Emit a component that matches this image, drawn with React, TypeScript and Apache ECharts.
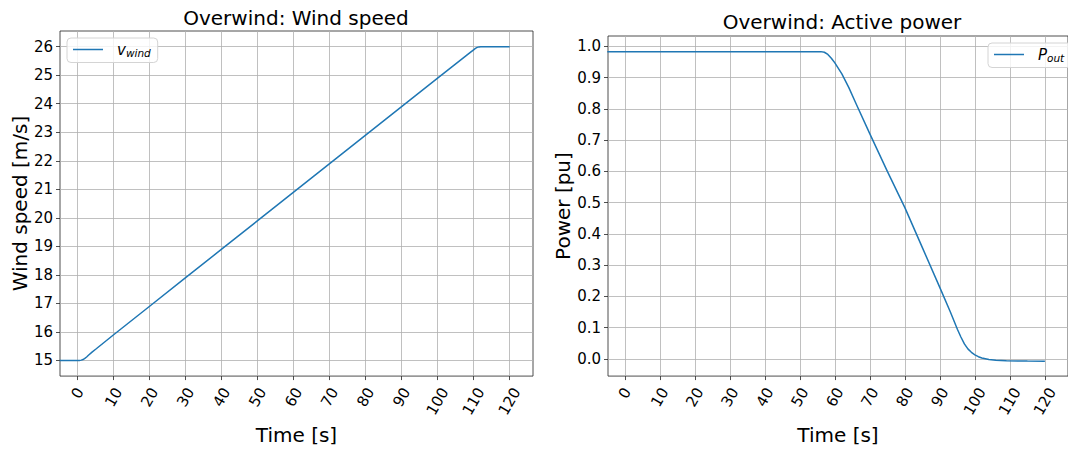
import React, { useEffect, useRef } from "react";
import * as echarts from "echarts";

// ---- data ----
const windTime = [-5, 0, 0.5, 1, 1.5, 2, 2.5, 3, 4, 5, 10, 20, 30, 40, 50, 60, 70, 80, 90, 100, 109, 110, 110.5, 111, 111.5, 112, 120];
const windSpeed = [15, 15, 15, 15.01, 15.03, 15.07, 15.12, 15.18, 15.29, 15.39, 15.9, 16.9, 17.9, 18.9, 19.9, 20.9, 21.9, 22.9, 23.9, 24.9, 25.79, 25.89, 25.94, 25.975, 25.993, 26, 26];

const powerTime = [-5, 0, 10, 20, 30, 40, 50, 56, 57, 58, 59, 60, 62, 64, 66, 70, 75, 80, 85, 90, 93, 95, 96, 97, 98, 99, 100, 101, 102, 104, 106, 109, 115, 120];
const powerOut = [0.983, 0.983, 0.983, 0.983, 0.983, 0.983, 0.983, 0.983, 0.981, 0.974, 0.962, 0.947, 0.912, 0.868, 0.818, 0.72, 0.6, 0.484, 0.356, 0.228, 0.15, 0.095, 0.07, 0.048, 0.032, 0.021, 0.013, 0.007, 0.003, -0.002, -0.004, -0.006, -0.007, -0.0075];

const timeTicks = [0, 10, 20, 30, 40, 50, 60, 70, 80, 90, 100, 110, 120];
const windTicks = [15, 16, 17, 18, 19, 20, 21, 22, 23, 24, 25, 26];
const powerTicks = [0, 0.1, 0.2, 0.3, 0.4, 0.5, 0.6, 0.7, 0.8, 0.9, 1.0];

const titles = ["Overwind: Wind speed", "Overwind: Active power"];
const yNames = ["Wind speed [m/s]", "Power [pu]"];
const xName = "Time [s]";

const FONT = "DejaVu Sans";
const LINE = "#1f77b4";
const GRIDC = "#b0b0b0";
const SPINE = "#222";
const TICK = 15;

function xLabel(v: number) {
  const s = String(Math.abs(Math.round(v)));
  return `{d${s.length}|${s}}`;
}
const base = { fontSize: TICK, color: "#000", fontFamily: FONT };
const xRich = {
  d1: { ...base },
  d2: { ...base, padding: [4.1, 7.2, 0, 0] },
  d3: { ...base, padding: [8.3, 14.3, 0, 0] },
};

function makeX(gridIndex: number, min: number, max: number) {
  return {
    type: "value",
    gridIndex,
    min,
    max,
    minInterval: 10,
    maxInterval: 10,
    name: xName,
    nameLocation: "middle",
    nameGap: 41,
    nameTextStyle: { fontSize: 20, color: "#000", fontFamily: FONT },
    axisLine: { show: false, onZero: false },
    axisTick: { show: true, length: 4, customValues: timeTicks, lineStyle: { color: SPINE, width: 0.8 } },
    axisLabel: {
      rotate: 60,
      align: "center",
      verticalAlign: "middle",
      margin: 17,
      customValues: timeTicks,
      formatter: xLabel,
      rich: xRich,
      ...base,
    },
    splitLine: { show: true, lineStyle: { color: GRIDC, width: 0.8 } },
  };
}

function legendRich() {
  return {
    m: { fontSize: 15, fontStyle: "italic", fontFamily: FONT, color: "#000", padding: [0, 0, 0, 9] },
    s: { fontSize: 10.5, fontStyle: "italic", fontFamily: FONT, color: "#000", padding: [7, 0, 0, 0] },
  };
}

function makeLegend(name: string, left: number, top: number, main: string, sub: string) {
  return {
    data: [name],
    left,
    top,
    padding: [4, 7, 4, 6],
    icon: "rect",
    itemWidth: 30,
    itemHeight: 1.5,
    backgroundColor: "rgba(255,255,255,0.8)",
    borderColor: "#d4d4d4",
    borderWidth: 1,
    borderRadius: 4,
    formatter: () => `{m|${main}}{s|${sub}}`,
    textStyle: { rich: legendRich() },
  };
}

export default function App() {
  const ref = useRef<HTMLDivElement>(null);
  useEffect(() => {
    if (!ref.current) return;
    const chart = echarts.init(ref.current, undefined, { renderer: "svg" });
    const windData = windTime.map((t, i) => [t, windSpeed[i]]);
    const powerData = powerTime.map((t, i) => [t, powerOut[i]]);
    chart.setOption({
      animation: false,
      backgroundColor: "#fff",
      textStyle: { fontFamily: FONT },
      title: [
        { text: titles[0], left: 296, top: 8, padding: 0, textAlign: "center", textStyle: { fontSize: 20, fontWeight: "normal", color: "#000", fontFamily: FONT } },
        { text: titles[1], left: 842, top: 12, padding: 0, textAlign: "center", textStyle: { fontSize: 20, fontWeight: "normal", color: "#000", fontFamily: FONT } },
      ],
      grid: [
        { left: 60, top: 31, right: 535, bottom: 67, show: true, borderColor: SPINE, borderWidth: 0.8, backgroundColor: "transparent" },
        { left: 608, top: 36, right: -8, bottom: 66, show: true, borderColor: SPINE, borderWidth: 0.8, backgroundColor: "transparent" },
      ],
      xAxis: [makeX(0, -4.9, 126.5), makeX(1, -4.8, 126.6)],
      yAxis: [
        {
          type: "value",
          gridIndex: 0,
          min: 14.45,
          max: 26.55,
          minInterval: 1,
          maxInterval: 1,
          name: yNames[0],
          nameLocation: "middle",
          nameGap: 28,
          nameTextStyle: { fontSize: 20, color: "#000", fontFamily: FONT },
          axisLine: { show: false, onZero: false },
          axisTick: { show: true, length: 4, customValues: windTicks, lineStyle: { color: SPINE, width: 0.8 } },
          axisLabel: {
            margin: 7,
            ...base,
            customValues: windTicks,
            formatter: (v: number) => String(Math.round(v)),
          },
          splitLine: { show: true, lineStyle: { color: GRIDC, width: 0.8 } },
        },
        {
          type: "value",
          gridIndex: 1,
          min: -0.055,
          max: 1.033,
          minInterval: 0.1,
          maxInterval: 0.1,
          name: yNames[1],
          nameLocation: "middle",
          nameGap: 33,
          nameTextStyle: { fontSize: 20, color: "#000", fontFamily: FONT },
          axisLine: { show: false, onZero: false },
          axisTick: { show: true, length: 4, customValues: powerTicks, lineStyle: { color: SPINE, width: 0.8 } },
          axisLabel: {
            margin: 7,
            ...base,
            customValues: powerTicks,
            formatter: (v: number) => (Math.abs(v) < 1e-9 ? "0.0" : v.toFixed(1)),
          },
          splitLine: { show: true, lineStyle: { color: GRIDC, width: 0.8 } },
        },
      ],
      legend: [makeLegend("wind", 67, 38, "v", "wind"), makeLegend("power", 988, 43, "P", "out")],
      series: [
        {
          name: "wind",
          type: "line",
          xAxisIndex: 0,
          yAxisIndex: 0,
          data: windData,
          symbol: "none",
          clip: true,
          lineStyle: { color: LINE, width: 1.5 },
          itemStyle: { color: LINE },
        },
        {
          name: "power",
          type: "line",
          xAxisIndex: 1,
          yAxisIndex: 1,
          data: powerData,
          symbol: "none",
          clip: true,
          lineStyle: { color: LINE, width: 1.5 },
          itemStyle: { color: LINE },
        },
      ],
    });
    return () => chart.dispose();
  }, []);
  return <div ref={ref} style={{ position: "absolute", left: 0, top: 0, width: 1068, height: 450 }} />;
}
